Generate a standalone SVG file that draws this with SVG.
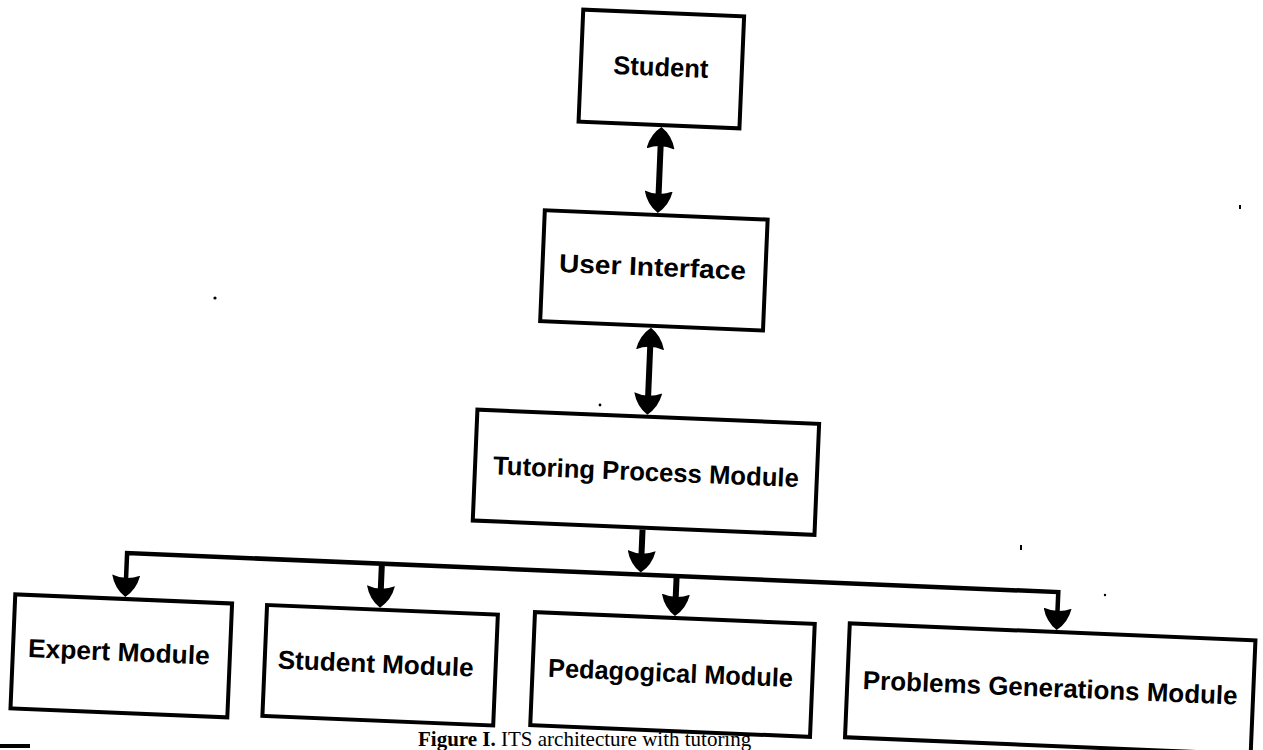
<svg xmlns="http://www.w3.org/2000/svg" width="1263" height="750" viewBox="0 0 1263 750">
  <defs>
    <style>
      .box { fill: #fff; stroke: #000; stroke-width: 4; stroke-linejoin: miter; }
      .lbl { font-family: "Liberation Sans", Arial, sans-serif; font-weight: bold; font-size: 26px; fill: #000; text-anchor: middle; }
      .link { fill: none; stroke: #000; stroke-width: 6; }
      .bus { fill: none; stroke: #000; stroke-width: 4.5; }
      .cap { font-family: "Liberation Serif", "Times New Roman", serif; fill: #000; }
    </style>
    <!-- solid arrowhead with bulging sides and a hollowed back; tip lies 16px beyond the path end -->
    <marker id="head" viewBox="0 0 22 28" refX="6" refY="14" markerWidth="22" markerHeight="28" markerUnits="userSpaceOnUse" orient="auto-start-reverse">
      <path d="M0,0 Q14,3 22,14 Q14,25 0,28 Q6,14 0,0 Z" fill="#000"/>
    </marker>
  </defs>

  <rect width="1263" height="750" fill="#fff"/>

  <g transform="rotate(2.4 631 375)">
    <g id="connectors">
      <path class="link" d="M651,142 V196" marker-start="url(#head)" marker-end="url(#head)"/>
      <path class="link" d="M649,343 V398" marker-start="url(#head)" marker-end="url(#head)"/>
      <path class="link" d="M649,529 V556" marker-end="url(#head)"/>
      <path class="bus" d="M135,602 V574 H1067 V596" marker-start="url(#head)" marker-end="url(#head)"/>
      <path class="link" d="M390,574 V602" marker-end="url(#head)"/>
      <path class="link" d="M685,574 V598" marker-end="url(#head)"/>
    </g>

    <g id="student">
      <rect class="box" x="568" y="12" width="161" height="112"/>
      <text class="lbl" x="648" y="75" textLength="95" lengthAdjust="spacingAndGlyphs">Student</text>
    </g>
    <g id="user-interface">
      <rect class="box" x="538" y="214" width="223" height="111"/>
      <text class="lbl" x="648" y="275" textLength="187" lengthAdjust="spacingAndGlyphs">User Interface</text>
    </g>
    <g id="tutoring-process-module">
      <rect class="box" x="479" y="416" width="342" height="111"/>
      <text class="lbl" x="650" y="480" textLength="306" lengthAdjust="spacingAndGlyphs">Tutoring Process Module</text>
    </g>
    <g id="expert-module">
      <rect class="box" x="25" y="620" width="217" height="114"/>
      <text class="lbl" x="131" y="682" textLength="182" lengthAdjust="spacingAndGlyphs">Expert Module</text>
    </g>
    <g id="student-module">
      <rect class="box" x="277" y="620" width="231" height="111"/>
      <text class="lbl" x="388" y="683" textLength="196" lengthAdjust="spacingAndGlyphs">Student Module</text>
    </g>
    <g id="pedagogical-module">
      <rect class="box" x="545" y="616" width="280" height="113"/>
      <text class="lbl" x="683" y="680" textLength="245" lengthAdjust="spacingAndGlyphs">Pedagogical Module</text>
    </g>
    <g id="problems-generations-module">
      <rect class="box" x="860" y="614" width="406" height="114"/>
      <text class="lbl" x="1063" y="679" textLength="375" lengthAdjust="spacingAndGlyphs">Problems Generations Module</text>
    </g>
  </g>

  <!-- figure caption along the bottom edge -->
  <text class="cap" x="418" y="745.5" font-size="21"><tspan font-weight="bold">Figure I.</tspan><tspan> ITS architecture with tutoring</tspan></text>

  <!-- specks and page edge -->
  <g id="specks" fill="#000">
    <circle cx="215" cy="298" r="1.6"/>
    <circle cx="600" cy="405" r="1.4"/>
    <rect x="1239" y="205" width="2" height="4"/>
    <rect x="1020" y="545" width="2" height="5"/>
    <circle cx="1105" cy="595" r="1.2"/>
    <circle cx="1175" cy="690" r="1.4"/>
    <rect x="0" y="744" width="30" height="4"/>
  </g>
</svg>
